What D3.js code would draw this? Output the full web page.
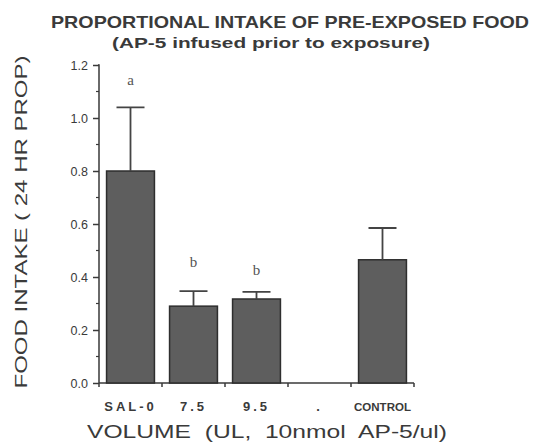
<!DOCTYPE html>
<html>
<head>
<meta charset="utf-8">
<script src="https://cdn.jsdelivr.net/npm/d3@7"></script>
<style>
  body { margin: 0; background: #fff; }
  svg { display: block; }
</style>
</head>
<body>
<div id="chart"></div>
<script>
"use strict";
const categories = ['SAL-0', '7.5', '9.5', '.', 'CONTROL'];
const values = [0.80, 0.29, 0.317, null, 0.465];
const errors = [0.24, 0.057, 0.027, null, 0.12];
const letters = ['a', 'b', 'b', '', ''];
const yTicks = [0, 0.2, 0.4, 0.6, 0.8, 1.0, 1.2];

const width = 537;
const height = 443;
const ink = '#3a3a3a';

const x = d3.scaleBand()
    .domain(categories)
    .range([99, 414])
    .paddingInner(0.24)
    .paddingOuter(0.12);
const y = d3.scaleLinear()
    .domain([0, 1.2])
    .range([383, 65]);

const svg = d3.select('#chart').append('svg')
    .attr('width', width)
    .attr('height', height);

// titles
svg.append('text')
    .attr('x', 290).attr('y', 28)
    .attr('text-anchor', 'middle')
    .attr('font-family', 'Liberation Sans, Arial, sans-serif')
    .attr('font-weight', 'bold')
    .attr('font-size', 16.5)
    .attr('fill', ink)
    .attr('textLength', 478)
    .attr('lengthAdjust', 'spacingAndGlyphs')
    .text('PROPORTIONAL INTAKE OF PRE-EXPOSED FOOD');
svg.append('text')
    .attr('x', 271).attr('y', 48)
    .attr('text-anchor', 'middle')
    .attr('font-family', 'Liberation Sans, Arial, sans-serif')
    .attr('font-weight', 'bold')
    .attr('font-size', 15.5)
    .attr('fill', ink)
    .attr('textLength', 318)
    .attr('lengthAdjust', 'spacingAndGlyphs')
    .text('(AP-5 infused prior to exposure)');

// y axis with minor ticks
const yAxis = d3.axisLeft(y).tickValues(yTicks).tickFormat(d3.format('.1f')).tickSize(6).tickPadding(5);
const gy = svg.append('g').attr('transform', 'translate(99,0)').call(yAxis);
gy.select('.domain').attr('stroke', ink).attr('stroke-width', 1.5).attr('d', 'M-1,65H0V383');
gy.selectAll('.tick line').attr('stroke', ink).attr('stroke-width', 1.5);
gy.selectAll('.tick text')
    .attr('fill', ink)
    .attr('font-family', 'Liberation Sans, Arial, sans-serif')
    .attr('font-size', 12.5);
gy.selectAll('.minor')
    .data(d3.range(1, 12, 2).map(d => d / 10))
    .join('line')
    .attr('class', 'minor')
    .attr('x1', -3).attr('x2', 0)
    .attr('y1', d => y(d)).attr('y2', d => y(d))
    .attr('stroke', ink).attr('stroke-width', 1.2);

// x axis: ticks at band boundaries
const step = x.step();
const bounds = categories.map((c, i) => i === 0 ? 99 : x(c) - x.paddingInner() * step / 2);
bounds.push(414);
svg.append('line')
    .attr('x1', 99).attr('x2', 414)
    .attr('y1', y(0)).attr('y2', y(0))
    .attr('stroke', ink).attr('stroke-width', 1.5);
svg.selectAll('.xtick')
    .data(bounds)
    .join('line')
    .attr('class', 'xtick')
    .attr('x1', d => d).attr('x2', d => d)
    .attr('y1', y(0)).attr('y2', y(0) + 4)
    .attr('stroke', ink).attr('stroke-width', 1.5);

const rows = categories.map((c, i) => ({ c, v: values[i], e: errors[i], l: letters[i], i }));

// x tick labels
svg.selectAll('.xlab')
    .data(rows)
    .join('text')
    .attr('class', 'xlab')
    .attr('x', d => x(d.c) + x.bandwidth() / 2)
    .attr('y', 411)
    .attr('text-anchor', 'middle')
    .attr('font-family', 'Liberation Sans, Arial, sans-serif')
    .attr('font-weight', 'bold')
    .attr('font-size', d => d.c === 'CONTROL' ? 11.5 : 13)
    .attr('letter-spacing', d => d.c === 'CONTROL' ? 0 : 3)
    .attr('fill', ink)
    .text(d => d.c);

// bars
const bars = rows.filter(d => d.v !== null);
svg.selectAll('.bar')
    .data(bars)
    .join('rect')
    .attr('class', 'bar')
    .attr('x', d => x(d.c))
    .attr('y', d => y(d.v))
    .attr('width', x.bandwidth())
    .attr('height', d => y(0) - y(d.v))
    .attr('fill', '#5e5e5e')
    .attr('stroke', '#2e2e2e')
    .attr('stroke-width', 1.5);

// error bars
svg.selectAll('.err')
    .data(bars)
    .join('path')
    .attr('class', 'err')
    .attr('d', d => {
        const cx = x(d.c) + x.bandwidth() / 2;
        return `M${cx},${y(d.v)}V${y(d.v + d.e)}M${cx - 14},${y(d.v + d.e)}H${cx + 14}`;
    })
    .attr('fill', 'none')
    .attr('stroke', '#444')
    .attr('stroke-width', 1.8);

// significance letters
svg.selectAll('.sig')
    .data(bars.filter(d => d.l))
    .join('text')
    .attr('class', 'sig')
    .attr('x', d => x(d.c) + x.bandwidth() / 2)
    .attr('y', d => y(d.v + d.e) - [22, 24, 17][d.i])
    .attr('text-anchor', 'middle')
    .attr('font-family', 'Liberation Serif, Times New Roman, serif')
    .attr('font-size', 15)
    .attr('fill', '#555')
    .text(d => d.l);

// axis titles
svg.append('text')
    .attr('x', 267).attr('y', 438)
    .attr('text-anchor', 'middle')
    .attr('font-family', 'Liberation Sans, Arial, sans-serif')
    .attr('font-size', 18.5)
    .attr('fill', ink)
    .attr('textLength', 360)
    .attr('lengthAdjust', 'spacingAndGlyphs')
    .attr('style', 'white-space: pre')
    .text('VOLUME  (UL,  10nmol  AP-5/ul)');
svg.append('text')
    .attr('transform', 'translate(27,222) rotate(-90)')
    .attr('text-anchor', 'middle')
    .attr('font-family', 'Liberation Sans, Arial, sans-serif')
    .attr('font-size', 17)
    .attr('fill', ink)
    .attr('textLength', 333)
    .attr('lengthAdjust', 'spacingAndGlyphs')
    .attr('style', 'white-space: pre')
    .text('FOOD INTAKE ( 24 HR PROP)');
</script>
</body>
</html>
